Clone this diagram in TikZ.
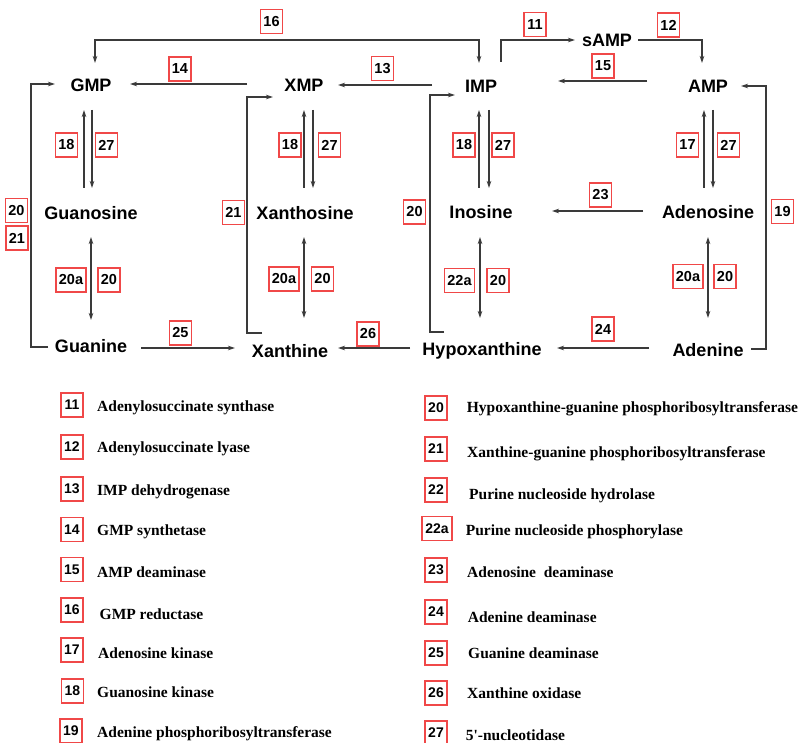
\documentclass[tikz,border=0pt]{standalone}
\usepackage{fontspec}
\setmainfont{Liberation Serif}
\newfontfamily\plainserif{Liberation Serif}
\newfontfamily\arialf{Liberation Sans}
\usetikzlibrary{arrows.meta}
\definecolor{boxred}{HTML}{F04848}
\definecolor{linegray}{HTML}{3A3A3A}
\begin{document}
\begin{tikzpicture}[x=1pt,y=-1pt,
  mol/.style={font=\arialf\bfseries\fontsize{18}{20}\selectfont, inner sep=0pt, anchor=base},
  num/.style={draw=boxred, line width=1.3pt, fill=white, font=\arialf\bfseries\fontsize{14.5}{16}\selectfont, minimum width=22pt, minimum height=24pt, inner sep=1pt},
  wnum/.style={num, minimum width=30pt},
  lnum/.style={num, font=\arialf\bfseries\fontsize{14}{16}\selectfont},
  ltext/.style={anchor=base west, font=\bfseries\fontsize{15.5}{18}\selectfont, inner sep=0pt},
  tip/.tip={Stealth[length=7pt,width=4.5pt]},
  ln/.style={draw=linegray, line width=1.2pt},
  arr/.style={ln, -tip},
  darr/.style={ln, tip-tip},
]
\useasboundingbox[fill=white] (0,0) rectangle (801,743);

% ---- compounds
\node[mol] (GMP) at (91,92) {GMP};
\node[mol] (XMP) at (304,92) {XMP};
\node[mol] (IMP) at (481,93) {IMP};
\node[mol] (sAMP) at (607,47) {sAMP};
\node[mol] (AMP) at (708,93) {AMP};
\node[mol] (Guo) at (91,220) {Guanosine};
\node[mol] (Xao) at (305,220) {Xanthosine};
\node[mol] (Ino) at (481,219) {Inosine};
\node[mol] (Ado) at (708,219) {Adenosine};
\node[mol] (Gua) at (91,353) {Guanine};
\node[mol] (Xan) at (290,358) {Xanthine};
\node[mol] (Hyp) at (482,356) {Hypoxanthine};
\node[mol] (Ade) at (708,357) {Adenine};

% ---- connector end points
\coordinate (g16) at (95,63);   \coordinate (i16) at (479,63);
\coordinate (i11) at (501,62);  \coordinate (s11) at (575,40);
\coordinate (s12) at (638,40);  \coordinate (a12) at (702,63);
\coordinate (a15) at (647,81);  \coordinate (i15) at (558,81);
\coordinate (i13) at (432,85);  \coordinate (x13) at (338,85);
\coordinate (x14) at (247,84);  \coordinate (g14) at (130,84);
% vertical pairs
\coordinate (gU1) at (84,188);  \coordinate (gU2) at (84,110);
\coordinate (gD1) at (92,110);  \coordinate (gD2) at (92,188);
\coordinate (xU1) at (304,188); \coordinate (xU2) at (304,110);
\coordinate (xD1) at (313,110); \coordinate (xD2) at (313,188);
\coordinate (iU1) at (479,188); \coordinate (iU2) at (479,110);
\coordinate (iD1) at (489,110); \coordinate (iD2) at (489,188);
\coordinate (aU1) at (704,188); \coordinate (aU2) at (704,110);
\coordinate (aD1) at (713,110); \coordinate (aD2) at (713,188);
% nucleoside <-> base
\coordinate (gb1) at (91,237);  \coordinate (gb2) at (91,320);
\coordinate (xb1) at (304,237); \coordinate (xb2) at (304,318);
\coordinate (ib1) at (480,237); \coordinate (ib2) at (480,318);
\coordinate (ab1) at (708,237); \coordinate (ab2) at (708,318);
% horizontal
\coordinate (a23) at (643,211); \coordinate (i23) at (552,211);
\coordinate (a24) at (649,348); \coordinate (h24) at (557,348);
\coordinate (h26) at (410,348); \coordinate (x26) at (338,348);
\coordinate (g25) at (141,348); \coordinate (x25) at (235,348);
% salvage
\coordinate (sg1) at (48,347);  \coordinate (sg2) at (55,84);
\coordinate (sx1) at (262,333); \coordinate (sx2) at (273,97);
\coordinate (si1) at (444,332); \coordinate (si2) at (455,95);
\coordinate (sa1) at (751,349); \coordinate (sa2) at (741,86);

% ---- connectors
\draw[darr] (g16) -- ++(0,-23) -| (i16);
\draw[arr] (i11) |- (s11);
\draw[arr] (s12) -| (a12);
\draw[arr] (a15) -- (i15);
\draw[arr] (i13) -- (x13);
\draw[arr] (x14) -- (g14);
\foreach \p in {g,x,i,a}{
  \draw[arr] (\p U1) -- (\p U2);
  \draw[arr] (\p D1) -- (\p D2);
}
\draw[darr] (gb1) -- (gb2);
\draw[darr] (xb1) -- (xb2);
\draw[darr] (ib1) -- (ib2);
\draw[darr] (ab1) -- (ab2);
\draw[arr] (a23) -- (i23);
\draw[arr] (a24) -- (h24);
\draw[arr] (h26) -- (x26);
\draw[arr] (g25) -- (x25);
\draw[arr] (sg1) -- ++(-17,0) |- (sg2);
\draw[arr] (sx1) -- ++(-15,0) |- (sx2);
\draw[arr] (si1) -- ++(-14,0) |- (si2);
\draw[arr] (sa1) -- ++(15,0) |- (sa2);

% ---- enzyme boxes on the diagram
\node[num] (b16) at (271.5,21.5) {16};
\node[num] (b11) at (535,24.5) {11};
\node[num] (b12) at (668.5,25) {12};
\node[num] (b15) at (603,66) {15};
\node[num] (b13) at (382.5,68.5) {13};
\node[num] (b14) at (180,69) {14};
\node[num] (b18g) at (66.5,145) {18};
\node[num] (b27g) at (106.5,145) {27};
\node[num] (b18x) at (290,145) {18};
\node[num] (b27x) at (329.5,145) {27};
\node[num] (b18i) at (464,145) {18};
\node[num] (b27i) at (503,145) {27};
\node[num] (b17a) at (687.5,145) {17};
\node[num] (b27a) at (728.5,145) {27};
\node[wnum] (b20ag) at (71,280) {20a};
\node[num] (b20g) at (109,280) {20};
\node[wnum] (b20ax) at (284,279) {20a};
\node[num] (b20x) at (322.5,279) {20};
\node[wnum] (b22ai) at (459.5,280.5) {22a};
\node[num] (b20i) at (498,280.5) {20};
\node[wnum] (b20aa) at (688,276.5) {20a};
\node[num] (b20a) at (725,276.5) {20};
\node[num] (b23) at (600.5,195) {23};
\node[num] (b24) at (603,329) {24};
\node[num] (b26) at (368,334) {26};
\node[num] (b25) at (180.5,333) {25};
\node[num] (b20s) at (16.5,210.5) {20};
\node[num] (b21s) at (17,238) {21};
\node[num] (b21x) at (233.5,212.5) {21};
\node[num] (b20h) at (414.5,212) {20};
\node[num] (b19) at (782.5,211.5) {19};

% ---- legend, left column
\node[lnum] (l11) at (72,405) {11};   \node[ltext] (t11) at (97,412) {Adenylosuccinate synthase};
\node[lnum] (l12) at (72,447) {12};   \node[ltext] (t12) at (97,453) {Adenylosuccinate lyase};
\node[lnum] (l13) at (72,489) {13};   \node[ltext] (t13) at (97,495) {IMP dehydrogenase};
\node[lnum] (l14) at (72,529.5) {14}; \node[ltext] (t14) at (97,535) {GMP synthetase};
\node[lnum] (l15) at (72,569.5) {15}; \node[ltext] (t15) at (97,577) {AMP deaminase};
\node[lnum] (l16) at (72,610) {16};   \node[ltext] (t16) at (99.5,619) {GMP reductase};
\node[lnum] (l17) at (72,650) {17};   \node[ltext] (t17) at (98,658) {Adenosine kinase};
\node[lnum] (l18) at (72.5,691) {18}; \node[ltext] (t18) at (97,697) {Guanosine kinase};
\node[lnum] (l19) at (71,731) {19};   \node[ltext] (t19) at (97,737) {Adenine phosphoribosyltransferase};
% ---- legend, right column
\node[lnum] (l20) at (436,408) {20};   \node[ltext] (t20) at (466.7,413) {Hypoxanthine-guanine phosphoribosyltransferase};
\node[lnum] (l21) at (436,449) {21};   \node[ltext] (t21) at (467,457) {Xanthine-guanine phosphoribosyltransferase};
\node[lnum] (l22) at (436,490) {22};   \node[ltext] (t22) at (469,499) {Purine nucleoside hydrolase};
\node[lnum,minimum width=30pt] (l22a) at (437,528.5) {22a}; \node[ltext] (t22a) at (465.7,535) {Purine nucleoside phosphorylase};
\node[lnum] (l23) at (436,570) {23};   \node[ltext] (t23) at (467,577) {Adenosine\ \ deaminase};
\node[lnum] (l24) at (436,612) {24};   \node[ltext] (t24) at (467.7,622) {Adenine deaminase};
\node[lnum] (l25) at (436,653) {25};   \node[ltext] (t25) at (468,658) {Guanine deaminase};
\node[lnum] (l26) at (436,693) {26};   \node[ltext] (t26) at (467,698) {Xanthine oxidase};
\node[lnum] (l27) at (436,733) {27};   \node[ltext] (t27) at (465.7,740) {\plainserif\bfseries 5'-nucleotidase};
\end{tikzpicture}
\end{document}
